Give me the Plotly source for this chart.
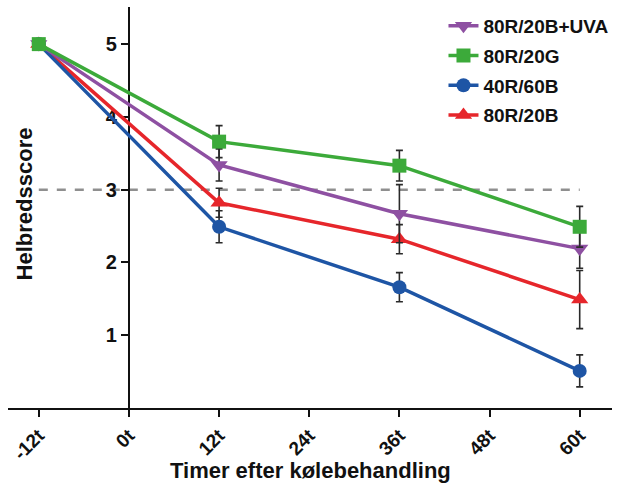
import plotly.graph_objects as go

hours = [-12, 12, 36, 60]
tick_vals = [-12, 0, 12, 24, 36, 48, 60]
tick_text = ["-12t", "0t", "12t", "24t", "36t", "48t", "60t"]

series_names = ["80R/20B+UVA", "80R/20G", "40R/60B", "80R/20B"]
uva_vals = [5.0, 3.34, 2.67, 2.19]
uva_err = [0, 0.22, 0.40, 0.27]
g_vals = [5.0, 3.66, 3.33, 2.49]
g_err = [0, 0.22, 0.21, 0.28]
b60_vals = [5.0, 2.49, 1.66, 0.51]
b60_err = [0, 0.22, 0.20, 0.22]
b20_vals = [5.0, 2.82, 2.32, 1.49]
b20_err = [0, 0.20, 0.20, 0.40]
threshold = 3

colors = {"80R/20B+UVA": "#8E50A2", "80R/20G": "#3CAA3A", "40R/60B": "#1E55A5", "80R/20B": "#E6262B"}
symbols = {"80R/20B+UVA": "triangle-down", "80R/20G": "square", "40R/60B": "circle", "80R/20B": "triangle-up"}
sizes = {"80R/20B+UVA": 15, "80R/20G": 14, "40R/60B": 14, "80R/20B": 15}
data = {
    "80R/20B+UVA": (uva_vals, uva_err),
    "80R/20G": (g_vals, g_err),
    "40R/60B": (b60_vals, b60_err),
    "80R/20B": (b20_vals, b20_err),
}
draw_order = ["80R/20B", "40R/60B", "80R/20B+UVA", "80R/20G"]

font_family = "Liberation Sans, Arial, sans-serif"

fig = go.Figure()
for name in draw_order:
    vals, err = data[name]
    fig.add_trace(go.Scatter(
        x=hours, y=vals, name=name, mode="lines+markers",
        legendgroup=name,
        line=dict(color=colors[name], width=3.5),
        marker=dict(symbol=symbols[name], size=sizes[name], color=colors[name]),
        error_y=dict(type="data", array=err, visible=True, color="#2a2a2a", thickness=1.6, width=3.5),
        legendrank=series_names.index(name) + 1,
    ))

fig.add_shape(type="line", x0=-12, x1=60, y0=threshold, y1=threshold, xref="x", yref="y",
              line=dict(color="#8f8f8f", width=2.5, dash="dash"), layer="below")

fig.update_layout(
    width=622, height=490,
    margin=dict(l=8, r=10, t=7, b=82),
    paper_bgcolor="white", plot_bgcolor="white",
    font=dict(family=font_family, color="#111111"),
    showlegend=True,
    legend=dict(x=0.721, y=1.0, xanchor="left", yanchor="top",
                font=dict(family=font_family, size=19, weight="bold", color="#111111"),
                bgcolor="rgba(0,0,0,0)", tracegroupgap=2),
    xaxis=dict(range=[-16.1, 64.3], tickmode="array", tickvals=tick_vals, ticktext=tick_text,
               tickangle=-45, ticks="outside", ticklen=7, tickwidth=2, tickcolor="#111111",
               showline=True, linecolor="#111111", linewidth=2, showgrid=False, zeroline=False,
               tickfont=dict(family=font_family, size=19, weight="bold", color="#111111")),
    yaxis=dict(range=[0, 5.51], tickvals=[1, 2, 3, 4, 5], ticks="outside", ticklen=7, tickwidth=2,
               tickcolor="#111111", showline=True, linecolor="#111111", linewidth=2,
               showgrid=False, zeroline=False, anchor="free", position=16.1 / 80.4,
               layer="below traces",
               tickfont=dict(family=font_family, size=20, weight="bold", color="#111111")),
)

fig.add_annotation(text="Timer efter kølebehandling", xref="paper", yref="paper",
                   x=0.5, y=-0.155, xanchor="center", yanchor="middle", showarrow=False,
                   font=dict(family=font_family, size=22, weight="bold", color="#111111"))
fig.add_annotation(text="Helbredsscore", xref="paper", yref="paper",
                   x=0.028, y=0.51, xanchor="center", yanchor="middle", showarrow=False,
                   textangle=-90,
                   font=dict(family=font_family, size=22, weight="bold", color="#111111"))

fig.write_html("out.html", config={"displayModeBar": False},
               post_script="document.body.style.margin='0';document.body.style.padding='0';")
